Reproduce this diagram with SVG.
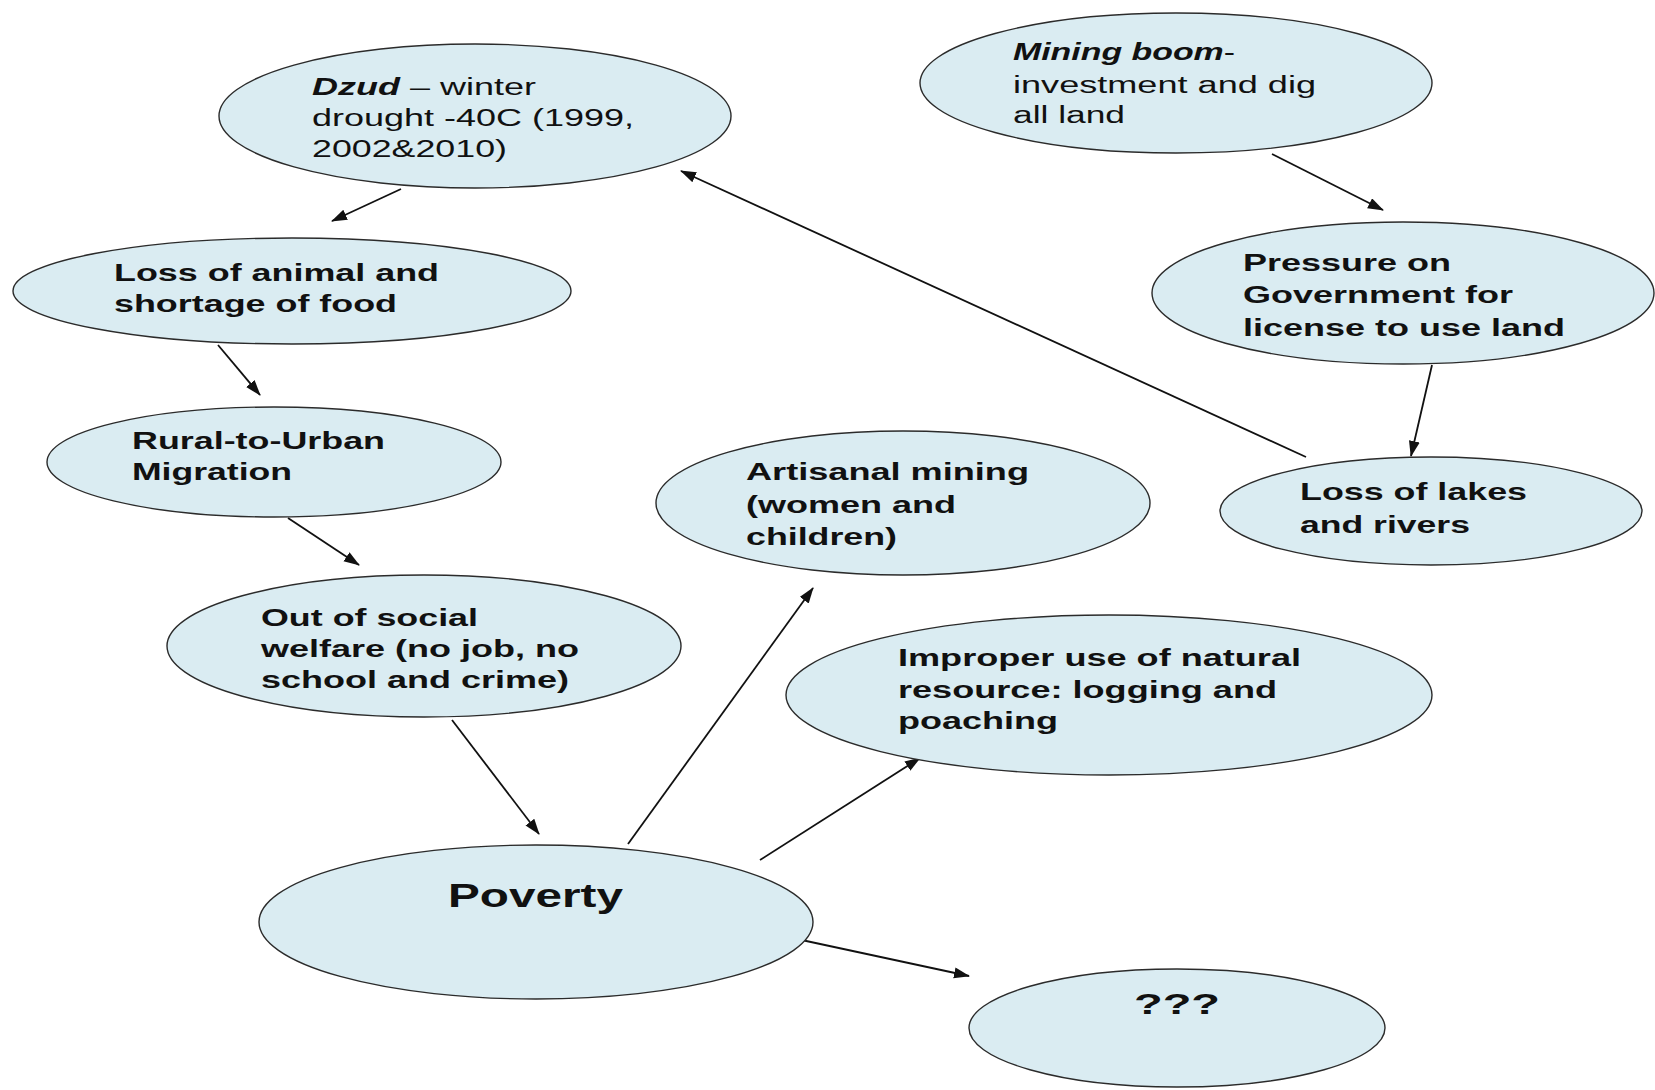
<svg xmlns="http://www.w3.org/2000/svg" width="1655" height="1090" viewBox="0 0 1655 1090">
<defs>
<style>
.n{fill:#daecf2;stroke:#2b2b2b;stroke-width:1.4}
.t{font-family:"Liberation Sans",Arial,sans-serif;font-size:23px;fill:#111}
.b{font-weight:bold}
.bi{font-weight:bold;font-style:italic}
.c{stroke:#111;stroke-width:1.8;fill:none;marker-end:url(#ah)}
</style>
<marker id="ah" markerUnits="userSpaceOnUse" markerWidth="16" markerHeight="12" refX="15" refY="5.5" orient="auto">
<path d="M0,0 L16,5.5 L0,11 z" fill="#111"/>
</marker>
</defs>
<rect width="1655" height="1090" fill="#ffffff"/>
<g id="connectors">
<line class="c" x1="401" y1="189" x2="332" y2="221"/>
<line class="c" x1="218" y1="345" x2="260" y2="395"/>
<line class="c" x1="288" y1="518" x2="359" y2="565"/>
<line class="c" x1="452" y1="720" x2="539" y2="834"/>
<line class="c" x1="628" y1="844" x2="813" y2="588"/>
<line class="c" x1="760" y1="860" x2="920" y2="758"/>
<line class="c" x1="783" y1="936" x2="969" y2="976"/>
<line class="c" x1="1272" y1="154" x2="1383" y2="210"/>
<line class="c" x1="1432" y1="365" x2="1411" y2="456"/>
<line class="c" x1="1306" y1="457" x2="681" y2="171"/>
</g>
<g id="dzud">
<ellipse class="n" cx="475" cy="116" rx="256" ry="72"/>
<text class="t" x="312" y="95" textLength="224" lengthAdjust="spacingAndGlyphs"><tspan class="bi">Dzud</tspan> – winter</text>
<text class="t" x="312" y="126" textLength="322" lengthAdjust="spacingAndGlyphs">drought -40C (1999,</text>
<text class="t" x="312" y="157" textLength="195" lengthAdjust="spacingAndGlyphs">2002&amp;2010)</text>
</g>
<g id="mining">
<ellipse class="n" cx="1176" cy="83" rx="256" ry="70"/>
<text class="t" x="1013" y="60" textLength="222" lengthAdjust="spacingAndGlyphs"><tspan class="bi">Mining boom</tspan>-</text>
<text class="t" x="1013" y="93" textLength="303" lengthAdjust="spacingAndGlyphs">investment and dig</text>
<text class="t" x="1013" y="123" textLength="112" lengthAdjust="spacingAndGlyphs">all land</text>
</g>
<g id="loss-animal">
<ellipse class="n" cx="292" cy="291" rx="279" ry="53"/>
<text class="t b" x="114" y="281" textLength="325" lengthAdjust="spacingAndGlyphs">Loss of animal and</text>
<text class="t b" x="114" y="312" textLength="283" lengthAdjust="spacingAndGlyphs">shortage of food</text>
</g>
<g id="pressure">
<ellipse class="n" cx="1403" cy="293" rx="251" ry="71"/>
<text class="t b" x="1243" y="271" textLength="208" lengthAdjust="spacingAndGlyphs">Pressure on</text>
<text class="t b" x="1243" y="303" textLength="270" lengthAdjust="spacingAndGlyphs">Government for</text>
<text class="t b" x="1243" y="336" textLength="322" lengthAdjust="spacingAndGlyphs">license to use land</text>
</g>
<g id="rural">
<ellipse class="n" cx="274" cy="462" rx="227" ry="55"/>
<text class="t b" x="132" y="449" textLength="253" lengthAdjust="spacingAndGlyphs">Rural-to-Urban</text>
<text class="t b" x="132" y="480" textLength="160" lengthAdjust="spacingAndGlyphs">Migration</text>
</g>
<g id="artisanal">
<ellipse class="n" cx="903" cy="503" rx="247" ry="72"/>
<text class="t b" x="746" y="480" textLength="283" lengthAdjust="spacingAndGlyphs">Artisanal mining</text>
<text class="t b" x="746" y="513" textLength="210" lengthAdjust="spacingAndGlyphs">(women and</text>
<text class="t b" x="746" y="545" textLength="151" lengthAdjust="spacingAndGlyphs">children)</text>
</g>
<g id="loss-lakes">
<ellipse class="n" cx="1431" cy="511" rx="211" ry="54"/>
<text class="t b" x="1300" y="500" textLength="227" lengthAdjust="spacingAndGlyphs">Loss of lakes</text>
<text class="t b" x="1300" y="533" textLength="170" lengthAdjust="spacingAndGlyphs">and rivers</text>
</g>
<g id="welfare">
<ellipse class="n" cx="424" cy="646" rx="257" ry="71"/>
<text class="t b" x="261" y="626" textLength="217" lengthAdjust="spacingAndGlyphs">Out of social</text>
<text class="t b" x="261" y="657" textLength="318" lengthAdjust="spacingAndGlyphs">welfare (no job, no</text>
<text class="t b" x="261" y="688" textLength="308" lengthAdjust="spacingAndGlyphs">school and crime)</text>
</g>
<g id="improper">
<ellipse class="n" cx="1109" cy="695" rx="323" ry="80"/>
<text class="t b" x="898" y="666" textLength="403" lengthAdjust="spacingAndGlyphs">Improper use of natural</text>
<text class="t b" x="898" y="698" textLength="379" lengthAdjust="spacingAndGlyphs">resource: logging and</text>
<text class="t b" x="898" y="729" textLength="160" lengthAdjust="spacingAndGlyphs">poaching</text>
</g>
<g id="poverty">
<ellipse class="n" cx="536" cy="922" rx="277" ry="77"/>
<text class="t b" x="448" y="907" style="font-size:33px" textLength="175" lengthAdjust="spacingAndGlyphs">Poverty</text>
</g>
<g id="unknown">
<ellipse class="n" cx="1177" cy="1028" rx="208" ry="59"/>
<text class="t b" x="1134" y="1014" style="font-size:30px" textLength="86" lengthAdjust="spacingAndGlyphs">???</text>
</g>
</svg>
